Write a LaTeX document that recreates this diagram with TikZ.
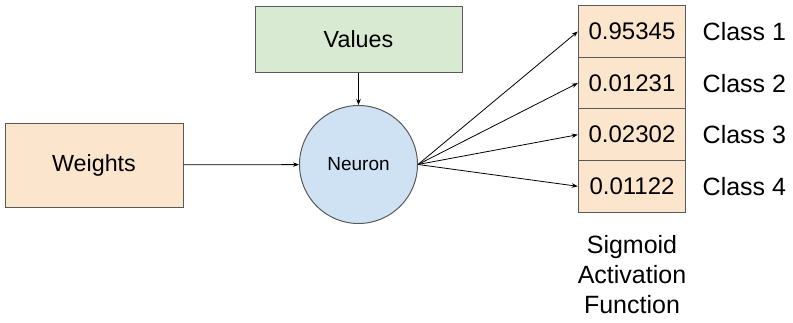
\documentclass[tikz,border=0pt]{standalone}
\usepackage{fontspec}
\setmainfont{Liberation Sans}
\usetikzlibrary{arrows.meta}
\definecolor{orangefill}{HTML}{FCE5CD}
\definecolor{greenfill}{HTML}{D9EAD3}
\definecolor{bluefill}{HTML}{CFE2F3}
\definecolor{edge}{HTML}{595959}
\begin{document}
\begin{tikzpicture}[x=1pt,y=-1pt,
  box/.style={draw=edge,line width=1pt,inner sep=0pt,font=\fontsize{23.3}{28}\selectfont},
  cell/.style={draw=edge,line width=1pt,fill=orangefill,inner sep=0pt,minimum width=107.4pt,minimum height=51.6pt,font=\fontsize{24}{28}\selectfont},
  lbl/.style={anchor=west,inner sep=0pt,font=\fontsize{25}{28}\selectfont},
  conn/.style={draw=black,line width=0.8pt,-{Stealth[length=6pt,width=4.5pt]}}]
\useasboundingbox (0,0) rectangle (793,322);
\node[box,fill=greenfill,minimum width=207pt,minimum height=66pt] (values) at (358.5,39) {Values};
\node[box,fill=orangefill,minimum width=178pt,minimum height=84pt] (weights) at (94,165) {Weights};
\node[box,circle,fill=bluefill,minimum size=118pt,font=\fontsize{19}{23}\selectfont] (neuron) at (358.5,164.5) {Neuron};
\node[cell] (c1) at (632,31.5) {0.95345};
\node[cell] (c2) at (632,83.1) {0.01231};
\node[cell] (c3) at (632,134.7) {0.02302};
\node[cell] (c4) at (632,186.3) {0.01122};
\node[lbl] (l1) at (702.5,31.5) {Class 1};
\node[lbl] (l2) at (702.5,83.1) {Class 2};
\node[lbl] (l3) at (702.5,134.7) {Class 3};
\node[lbl] (l4) at (702.5,186.3) {Class 4};
\node[inner sep=0pt,align=center,font=\fontsize{25}{30}\selectfont] (sig) at (632,275) {Sigmoid\\Activation\\Function};
\draw[conn] (values) -- (neuron);
\draw[conn] (weights) -- (neuron);
\draw[conn] (neuron.east) -- (c1.west);
\draw[conn] (neuron.east) -- (c2.west);
\draw[conn] (neuron.east) -- (c3.west);
\draw[conn] (neuron.east) -- (c4.west);
\end{tikzpicture}
\end{document}
